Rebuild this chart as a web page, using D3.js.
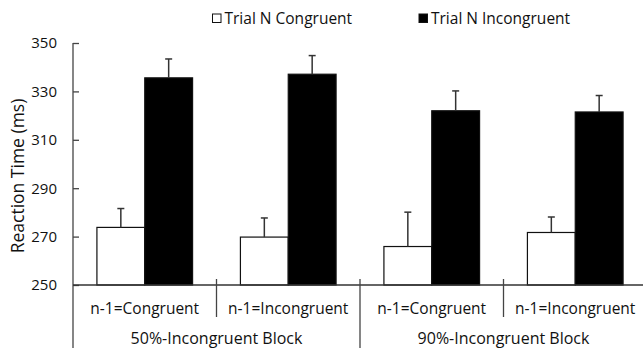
<!DOCTYPE html>
<html>
<head>
<meta charset="utf-8">
<script src="https://cdn.jsdelivr.net/npm/d3@7"></script>
<style>
body { margin: 0; background: #fff; }
text { font-family: "Open Sans", Lato, sans-serif; fill: #111; }
</style>
</head>
<body>
<script>
var W = 643, H = 348;
var margin = {top: 43, left: 73, bottom: 63};

// data
var blocks = ["50%-Incongruent Block", "90%-Incongruent Block"];
var conditions = ["n-1=Congruent", "n-1=Incongruent", "n-1=Congruent", "n-1=Incongruent"];
var series = ["Trial N Congruent", "Trial N Incongruent"];
var congruentMeans = [273.8, 269.8, 265.9, 271.7];
var congruentErr = [7.8, 7.9, 14.2, 6.4];
var incongruentMeans = [335.6, 337.1, 322.0, 321.5];
var incongruentErr = [7.8, 7.7, 8.2, 6.8];
var yTicks = [250, 270, 290, 310, 330, 350];

var data = [];
conditions.forEach(function(c, i) {
  data.push({cat: i, s: 0, v: congruentMeans[i], e: congruentErr[i]});
  data.push({cat: i, s: 1, v: incongruentMeans[i], e: incongruentErr[i]});
});

var svg = d3.select("body").append("svg")
    .attr("width", W)
    .attr("height", H);

var yScale = d3.scaleLinear()
    .domain([250, 350])
    .range([285, margin.top]);

var xScale = d3.scaleBand()
    .domain(d3.range(conditions.length))
    .range([margin.left, margin.left + 4 * 143.5])
    .padding(0);

var xSub = d3.scaleBand()
    .domain([0, 1])
    .range([0, xScale.bandwidth()])
    .paddingInner(0)
    .paddingOuter(0.5);

// y axis, ticks inward
var yAxis = d3.axisRight(yScale)
    .tickValues(yTicks)
    .tickSize(6)
    .tickFormat(d3.format("d"));

var gy = svg.append("g")
    .attr("transform", "translate(" + margin.left + ",0)")
    .call(yAxis);
gy.select(".domain").remove();
gy.selectAll(".tick line").attr("stroke", "#444").attr("stroke-width", 1.3);
gy.selectAll(".tick text")
    .attr("x", -16)
    .attr("text-anchor", "end")
    .style("font-size", "15px")
    .style("font-family", "'Open Sans', sans-serif")
    .attr("fill", "#222");

// y axis line running down through category label area
svg.append("line")
    .attr("x1", margin.left).attr("x2", margin.left)
    .attr("y1", margin.top).attr("y2", H)
    .attr("stroke", "#444").attr("stroke-width", 1.3);

svg.append("text")
    .attr("transform", "translate(18," + 176 + ") rotate(-90)")
    .attr("text-anchor", "middle")
    .attr("dy", "0.35em")
    .style("font-size", "17.5px")
    .text("Reaction Time (ms)");

// bars
svg.selectAll(".bar")
    .data(data)
    .enter().append("rect")
    .attr("class", "bar")
    .attr("x", function(d) { return xScale(d.cat) + xSub(d.s); })
    .attr("width", xSub.bandwidth())
    .attr("y", function(d) { return yScale(d.v); })
    .attr("height", function(d) { return yScale(250) - yScale(d.v); })
    .attr("fill", function(d) { return d.s ? "#000" : "#fff"; })
    .attr("stroke", "#111")
    .attr("stroke-width", 1.2);

// error bars (upper only)
var eb = svg.selectAll(".err")
    .data(data)
    .enter().append("g")
    .attr("class", "err")
    .attr("transform", function(d) { return "translate(" + (xScale(d.cat) + xSub(d.s) + xSub.bandwidth() / 2) + ",0)"; });
eb.append("line")
    .attr("y1", function(d) { return yScale(d.v); })
    .attr("y2", function(d) { return yScale(d.v + d.e); })
    .attr("stroke", "#333").attr("stroke-width", 1.5);
eb.append("line")
    .attr("x1", -3.5).attr("x2", 3.5)
    .attr("y1", function(d) { return yScale(d.v + d.e); })
    .attr("y2", function(d) { return yScale(d.v + d.e); })
    .attr("stroke", "#333").attr("stroke-width", 1.5);

// baseline
svg.append("line")
    .attr("x1", margin.left).attr("x2", W)
    .attr("y1", yScale(250)).attr("y2", yScale(250))
    .attr("stroke", "#333").attr("stroke-width", 1.3);

// category separators
[1, 3].forEach(function(i) {
  svg.append("line")
    .attr("x1", xScale(i)).attr("x2", xScale(i))
    .attr("y1", 279).attr("y2", 317)
    .attr("stroke", "#444").attr("stroke-width", 1.3);
});
svg.append("line")
    .attr("x1", xScale(2)).attr("x2", xScale(2))
    .attr("y1", 279).attr("y2", H)
    .attr("stroke", "#444").attr("stroke-width", 1.3);

// category labels
svg.selectAll(".cat")
    .data(conditions)
    .enter().append("text")
    .attr("class", "cat")
    .attr("x", function(d, i) { return xScale(i) + xScale.bandwidth() / 2; })
    .attr("y", 314)
    .attr("text-anchor", "middle")
    .style("font-size", "15.5px")
    .text(function(d) { return d; });

svg.selectAll(".blk")
    .data(blocks)
    .enter().append("text")
    .attr("class", "blk")
    .attr("x", function(d, i) { return xScale(i * 2) + xScale.bandwidth(); })
    .attr("y", 344)
    .attr("text-anchor", "middle")
    .style("font-size", "16px")
    .text(function(d) { return d; });

// legend
var legX = [212.5, 419];
var leg = svg.selectAll(".leg")
    .data(series)
    .enter().append("g")
    .attr("class", "leg")
    .attr("transform", function(d, i) { return "translate(" + legX[i] + ",14)"; });
leg.append("rect")
    .attr("width", 8.5).attr("height", 8.5)
    .attr("fill", function(d, i) { return i ? "#000" : "#fff"; })
    .attr("stroke", "#111").attr("stroke-width", 1);
leg.append("text")
    .attr("x", 12)
    .attr("y", 9.5)
    .style("font-size", "15.5px")
    .text(function(d) { return d; });
</script>
</body>
</html>
